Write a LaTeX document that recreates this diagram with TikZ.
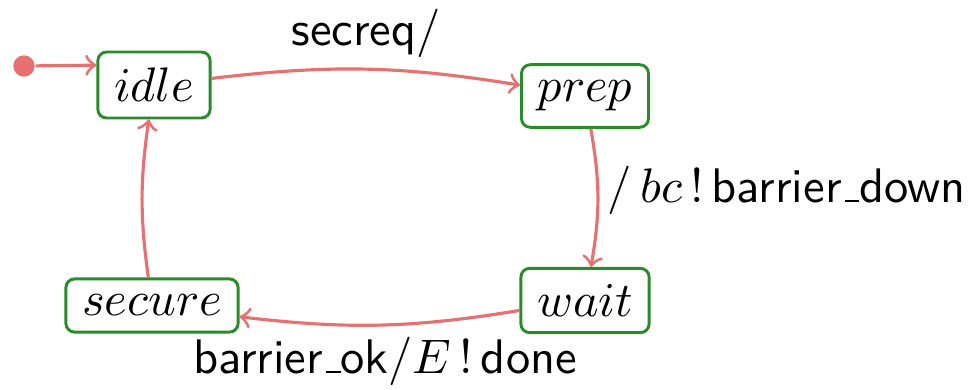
\documentclass[tikz,border=0pt]{standalone}
\usetikzlibrary{arrows}
\definecolor{stategreen}{RGB}{40,140,40}
\definecolor{transred}{RGB}{232,112,112}
% short low rule in place of the font's underscore glyph
\newcommand{\lowbar}{\leavevmode\kern.06em\vbox{\hrule width.3em}}
\begin{document}
\begin{tikzpicture}[x=0.2062pt,y=-0.2062pt,
    state/.style={draw=stategreen,semithick,rounded corners=1.8pt,fill=white},
    trans/.style={->,draw=transred,line width=0.65pt},
    lbl/.style={inner sep=0pt,font=\sffamily}]
  \useasboundingbox (0,0) rectangle (971,390);
  % states
  \node[state] (idle)   at (154,85)    {$idle$};
  \node[state] (prep)   at (585,96)    {$prep$};
  \node[state] (wait)   at (585,300.5) {$wait$};
  \node[state] (secure) at (152,305.5) {$secure$};
  % initial pseudo-state
  \node[circle,fill=transred,inner sep=0pt,minimum size=4.4pt] (init) at (24,66) {};
  % transitions
  \draw[trans] (init) -- (idle.161);
  \draw[trans] (idle) to[bend left=8] (prep);
  \draw[trans] (prep) to[bend left=10] (wait);
  \draw[trans] (wait) to[bend left=8] (secure);
  \draw[trans] (secure) to[bend left=8] (idle);
  % labels
  \node[lbl,anchor=base] (l1) at (366,45) {secreq/};
  \node[lbl,anchor=base west] (l2) at (607,202) {$/\,bc\,!\,$barrier\lowbar down};
  \node[lbl,anchor=base] (l3) at (385,373) {barrier\lowbar ok$/E\,!\,$done};
\end{tikzpicture}
\end{document}
